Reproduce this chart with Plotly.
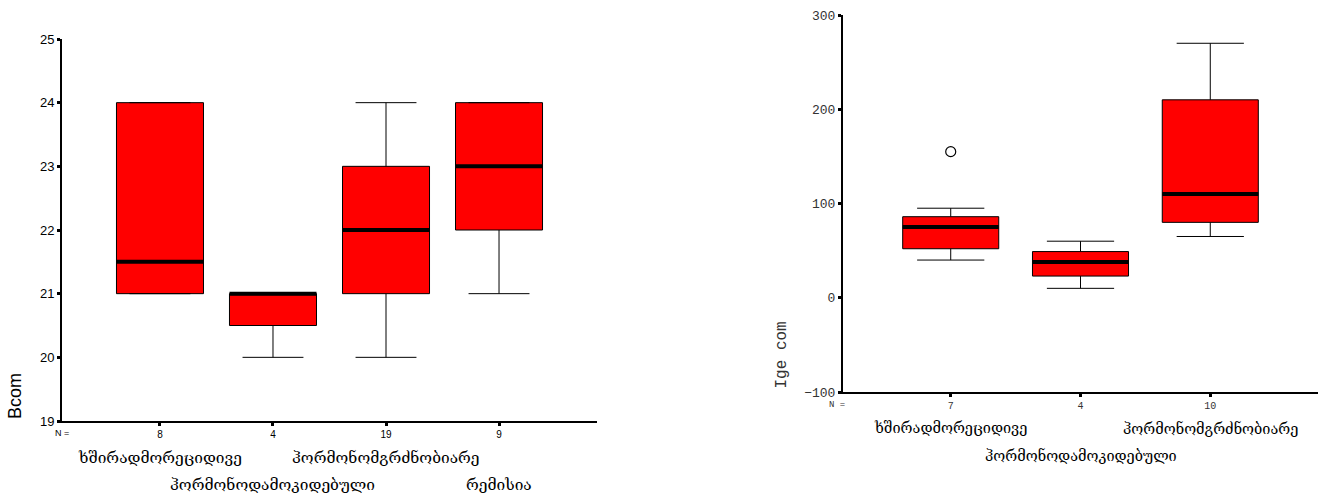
import plotly.graph_objects as go

# ---- Left panel: Bcom by group ----
b_groups = ["ხშირადმორეციდივე", "ჰორმონოდამოკიდებული", "ჰორმონომგრძნობიარე", "რემისია"]
b_n = ["8", "4", "19", "9"]
b_q1 = [21, 20.5, 21, 22]
b_median = [21.5, 21, 22, 23]
b_q3 = [24, 21, 23, 24]
b_low = [21, 20, 20, 21]
b_high = [24, 21, 24, 24]

# ---- Right panel: Ige com by group ----
i_groups = ["ხშირადმორეციდივე", "ჰორმონოდამოკიდებული", "ჰორმონომგრძნობიარე"]
i_n = ["7", "4", "10"]
i_q1 = [52, 23, 80]
i_median = [75, 38, 110]
i_q3 = [86, 49, 210]
i_low = [40, 10, 65]
i_high = [95, 60, 270]
i_out_group = [0]
i_out_value = [155]

W, H = 1325, 497
BOX_W_L = 0.77
BOX_W_R = 0.74
GEO_FONT = "DejaVu Serif, DejaVu Sans, Noto Sans"


def px_x(p):
    return p / W


def px_y(p):
    return 1 - p / H


def median_bars(medians, width):
    xs, ys = [], []
    for i, m in enumerate(medians):
        xs += [i - width / 2, i + width / 2, None]
        ys += [m, m, None]
    return xs, ys


fig = go.Figure()

# boxes
fig.add_trace(go.Box(
    x=list(range(len(b_groups))), q1=b_q1, median=b_median, q3=b_q3,
    lowerfence=b_low, upperfence=b_high,
    fillcolor="#ff0000", line=dict(color="black", width=1),
    width=BOX_W_L, whiskerwidth=0.7, boxpoints=False,
    xaxis="x", yaxis="y", showlegend=False, hoverinfo="skip",
))
mx, my = median_bars(b_median, BOX_W_L)
fig.add_trace(go.Scatter(x=mx, y=my, mode="lines", line=dict(color="black", width=4),
                         xaxis="x", yaxis="y", showlegend=False, hoverinfo="skip"))

fig.add_trace(go.Box(
    x=list(range(len(i_groups))), q1=i_q1, median=i_median, q3=i_q3,
    lowerfence=i_low, upperfence=i_high,
    fillcolor="#ff0000", line=dict(color="black", width=1),
    width=BOX_W_R, whiskerwidth=0.7, boxpoints=False,
    xaxis="x2", yaxis="y2", showlegend=False, hoverinfo="skip",
))
mx, my = median_bars(i_median, BOX_W_R)
fig.add_trace(go.Scatter(x=mx, y=my, mode="lines", line=dict(color="black", width=4),
                         xaxis="x2", yaxis="y2", showlegend=False, hoverinfo="skip"))
fig.add_trace(go.Scatter(x=i_out_group, y=i_out_value, mode="markers",
                         marker=dict(symbol="circle-open", size=10, color="black",
                                     line=dict(width=1.2)),
                         xaxis="x2", yaxis="y2", showlegend=False, hoverinfo="skip"))

axis_common = dict(showgrid=False, zeroline=False, showline=True, linecolor="black",
                   linewidth=2, ticks="outside", tickcolor="black", ticklen=3, tickwidth=3,
                   automargin=False)

annotations = []

# left axis title and group labels
annotations.append(dict(text="Bcom", x=px_x(15), y=px_y(421), xref="paper", yref="paper",
                        xanchor="center", yanchor="bottom", textangle=-90, showarrow=False,
                        font=dict(family="Liberation Sans, Arial", size=18, color="black")))
annotations.append(dict(text="N =", x=px_x(62), y=px_y(433), xref="paper", yref="paper",
                        xanchor="center", yanchor="middle", showarrow=False,
                        font=dict(family="Liberation Sans, Arial", size=9, color="black")))
for i, g in enumerate(b_groups):
    annotations.append(dict(text=g, x=i, y=px_y(458 if i % 2 == 0 else 485),
                            xref="x", yref="paper", xanchor="center", yanchor="middle",
                            showarrow=False, font=dict(family=GEO_FONT, size=15.5, color="black")))

# right axis title and group labels
annotations.append(dict(text="Ige com", x=px_x(781), y=px_y(391), xref="paper", yref="paper",
                        xanchor="center", yanchor="bottom", textangle=-90, showarrow=False,
                        font=dict(family="Liberation Mono, Courier New", size=16, color="#333")))
annotations.append(dict(text="N =", x=px_x(837), y=px_y(405), xref="paper", yref="paper",
                        xanchor="center", yanchor="middle", showarrow=False,
                        font=dict(family="Liberation Mono, Courier New", size=9, color="#333")))
for i, g in enumerate(i_groups):
    annotations.append(dict(text=g, x=i, y=px_y(428 if i % 2 == 0 else 455),
                            xref="x2", yref="paper", xanchor="center", yanchor="middle",
                            showarrow=False, font=dict(family=GEO_FONT, size=14.5, color="black")))

fig.update_layout(
    width=W, height=H,
    margin=dict(l=0, r=0, t=0, b=0, autoexpand=False),
    paper_bgcolor="white", plot_bgcolor="white",
    showlegend=False,
    xaxis=dict(domain=[px_x(62), px_x(597)], range=[-0.867, 3.867],
               tickvals=list(range(len(b_groups))), ticktext=b_n,
               tickfont=dict(family="Liberation Sans, Arial", size=10, color="black"),
               anchor="y", **axis_common),
    yaxis=dict(domain=[px_y(421), px_y(39)], range=[19, 25], dtick=1,
               tickfont=dict(family="Liberation Sans, Arial", size=13, color="black"),
               anchor="x", **axis_common),
    xaxis2=dict(domain=[px_x(843), px_x(1318)], range=[-0.83, 2.83],
                tickvals=list(range(len(i_groups))), ticktext=i_n,
                tickfont=dict(family="Liberation Mono, Courier New", size=10, color="#333"),
                anchor="y2", **axis_common),
    yaxis2=dict(domain=[px_y(392), px_y(15)], range=[-100, 300], dtick=100,
                tickfont=dict(family="Liberation Mono, Courier New", size=13, color="#333"),
                anchor="x2", **axis_common),
    annotations=annotations,
)

fig.write_html("out.html")
